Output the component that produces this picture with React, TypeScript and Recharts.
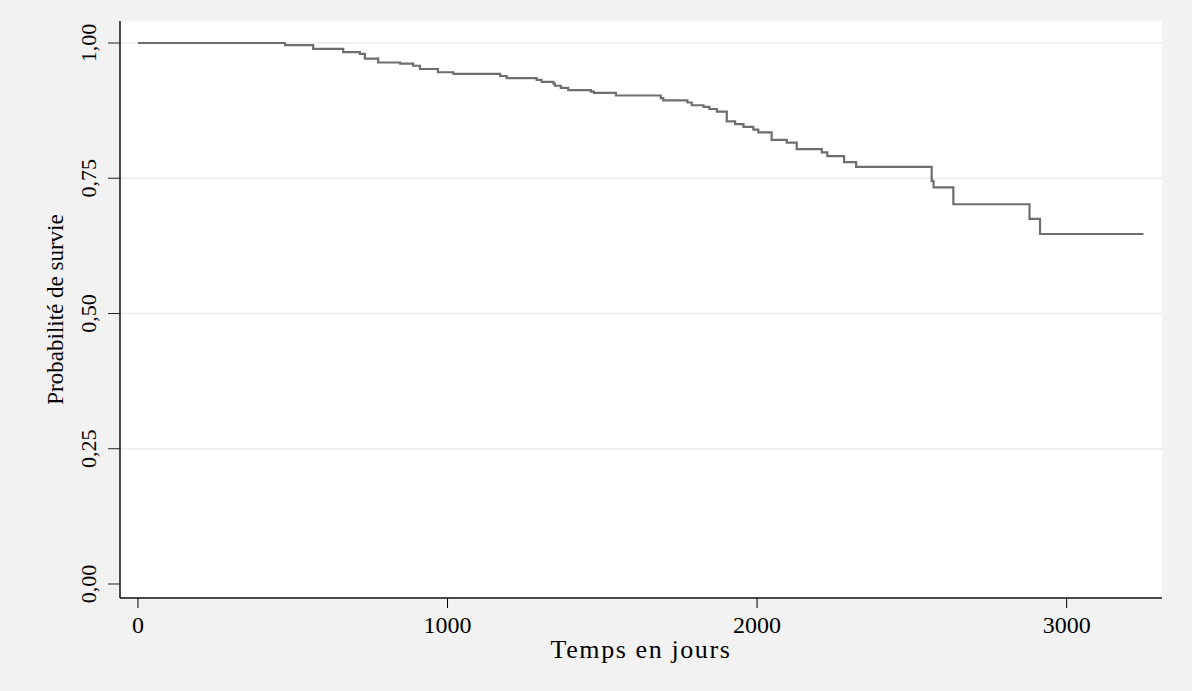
import React from 'react';
import { LineChart, Line, XAxis, YAxis, CartesianGrid, Label, ReferenceLine } from 'recharts';

// Kaplan-Meier estimate (days, survival)
const timeDays = [
  0, 475, 566, 663, 717, 733, 776, 847, 889, 911, 969, 1019, 1170, 1191, 1288, 1304,
  1342, 1347, 1366, 1390, 1463, 1473, 1544, 1689, 1697, 1775, 1789, 1827, 1846, 1870,
  1902, 1929, 1956, 1988, 2004, 2047, 2096, 2128, 2209, 2227, 2281, 2320, 2564, 2570,
  2634, 2880, 2914, 3248,
];
const survival = [
  1.0, 0.996, 0.989, 0.983, 0.98, 0.971, 0.964, 0.962, 0.958, 0.952, 0.946, 0.943, 0.939,
  0.935, 0.932, 0.928, 0.925, 0.921, 0.917, 0.913, 0.91, 0.908, 0.903, 0.898, 0.894, 0.89,
  0.885, 0.882, 0.878, 0.873, 0.855, 0.85, 0.845, 0.84, 0.835, 0.821, 0.816, 0.804, 0.798,
  0.791, 0.78, 0.771, 0.745, 0.733, 0.702, 0.675, 0.647, 0.647,
];

const xTicks = [0, 1000, 2000, 3000];
const yTicks = [0, 0.25, 0.5, 0.75, 1];
// grid lines only (no line at 0)
const gridValues = [0.25, 0.5, 0.75, 1];

const data = timeDays.map((t, i) => ({ t, s: survival[i] }));

const FONT = '"Liberation Serif", "DejaVu Serif", serif';

const fmtY = (v: number) => v.toFixed(2).replace('.', ',');

const YTick = (props: any) => {
  const { x, y, payload } = props;
  const cx = x - 17;
  return (
    <text
      x={cx}
      y={y}
      transform={`rotate(-90, ${cx}, ${y})`}
      textAnchor="middle"
      dominantBaseline="central"
      fontFamily={FONT}
      fontSize={22}
      fill="#000"
    >
      {fmtY(payload.value)}
    </text>
  );
};

const YTitle = (props: any) => {
  const vb = props.viewBox || { x: 0, y: 0, width: 0, height: 0 };
  const cx = vb.x + 55;
  const cy = vb.y + vb.height / 2;
  return (
    <text
      x={cx}
      y={cy}
      transform={`rotate(-90, ${cx}, ${cy})`}
      textAnchor="middle"
      dominantBaseline="central"
      fontFamily={FONT}
      fontSize={23}
      fill="#000"
    >
      Probabilité de survie
    </text>
  );
};

export default function App() {
  return (
    <div
      style={{
        position: 'absolute',
        left: 0,
        top: 0,
        width: 1192,
        height: 691,
        background: '#f2f2f2',
      }}
    >
      <LineChart width={1192} height={691} data={data} margin={{ top: 21, right: 30, bottom: 0, left: 0 }}>
        <CartesianGrid vertical={false} horizontal={false} fill="#ffffff" />
        {gridValues.map((v) => (
          <ReferenceLine key={v} y={v} stroke="#ececec" strokeWidth={1.5} />
        ))}
        <XAxis
          type="number"
          dataKey="t"
          domain={[-58, 3308]}
          ticks={xTicks}
          height={93}
          tickSize={10}
          tickMargin={8}
          axisLine={{ stroke: '#4a4a4a', strokeWidth: 2 }}
          tickLine={{ stroke: '#000' }}
          tick={{ fontFamily: FONT, fontSize: 24, fill: '#000' }}
          allowDataOverflow
        >
          <Label
            value="Temps en jours"
            position="insideBottom"
            offset={33}
            style={{ fontFamily: FONT, fontSize: 26, fill: '#000', letterSpacing: 1.6 }}
          />
        </XAxis>
        <YAxis
          type="number"
          domain={[-0.0259, 1.0407]}
          ticks={yTicks}
          width={120}
          tickSize={12}
          axisLine={{ stroke: '#111', strokeWidth: 1.5 }}
          tickLine={{ stroke: '#222' }}
          tick={<YTick />}
          allowDataOverflow
        >
          <Label content={<YTitle />} />
        </YAxis>
        <Line
          type="stepAfter"
          dataKey="s"
          stroke="#6e6e6e"
          strokeWidth={2.2}
          dot={false}
          isAnimationActive={false}
        />
      </LineChart>
    </div>
  );
}
